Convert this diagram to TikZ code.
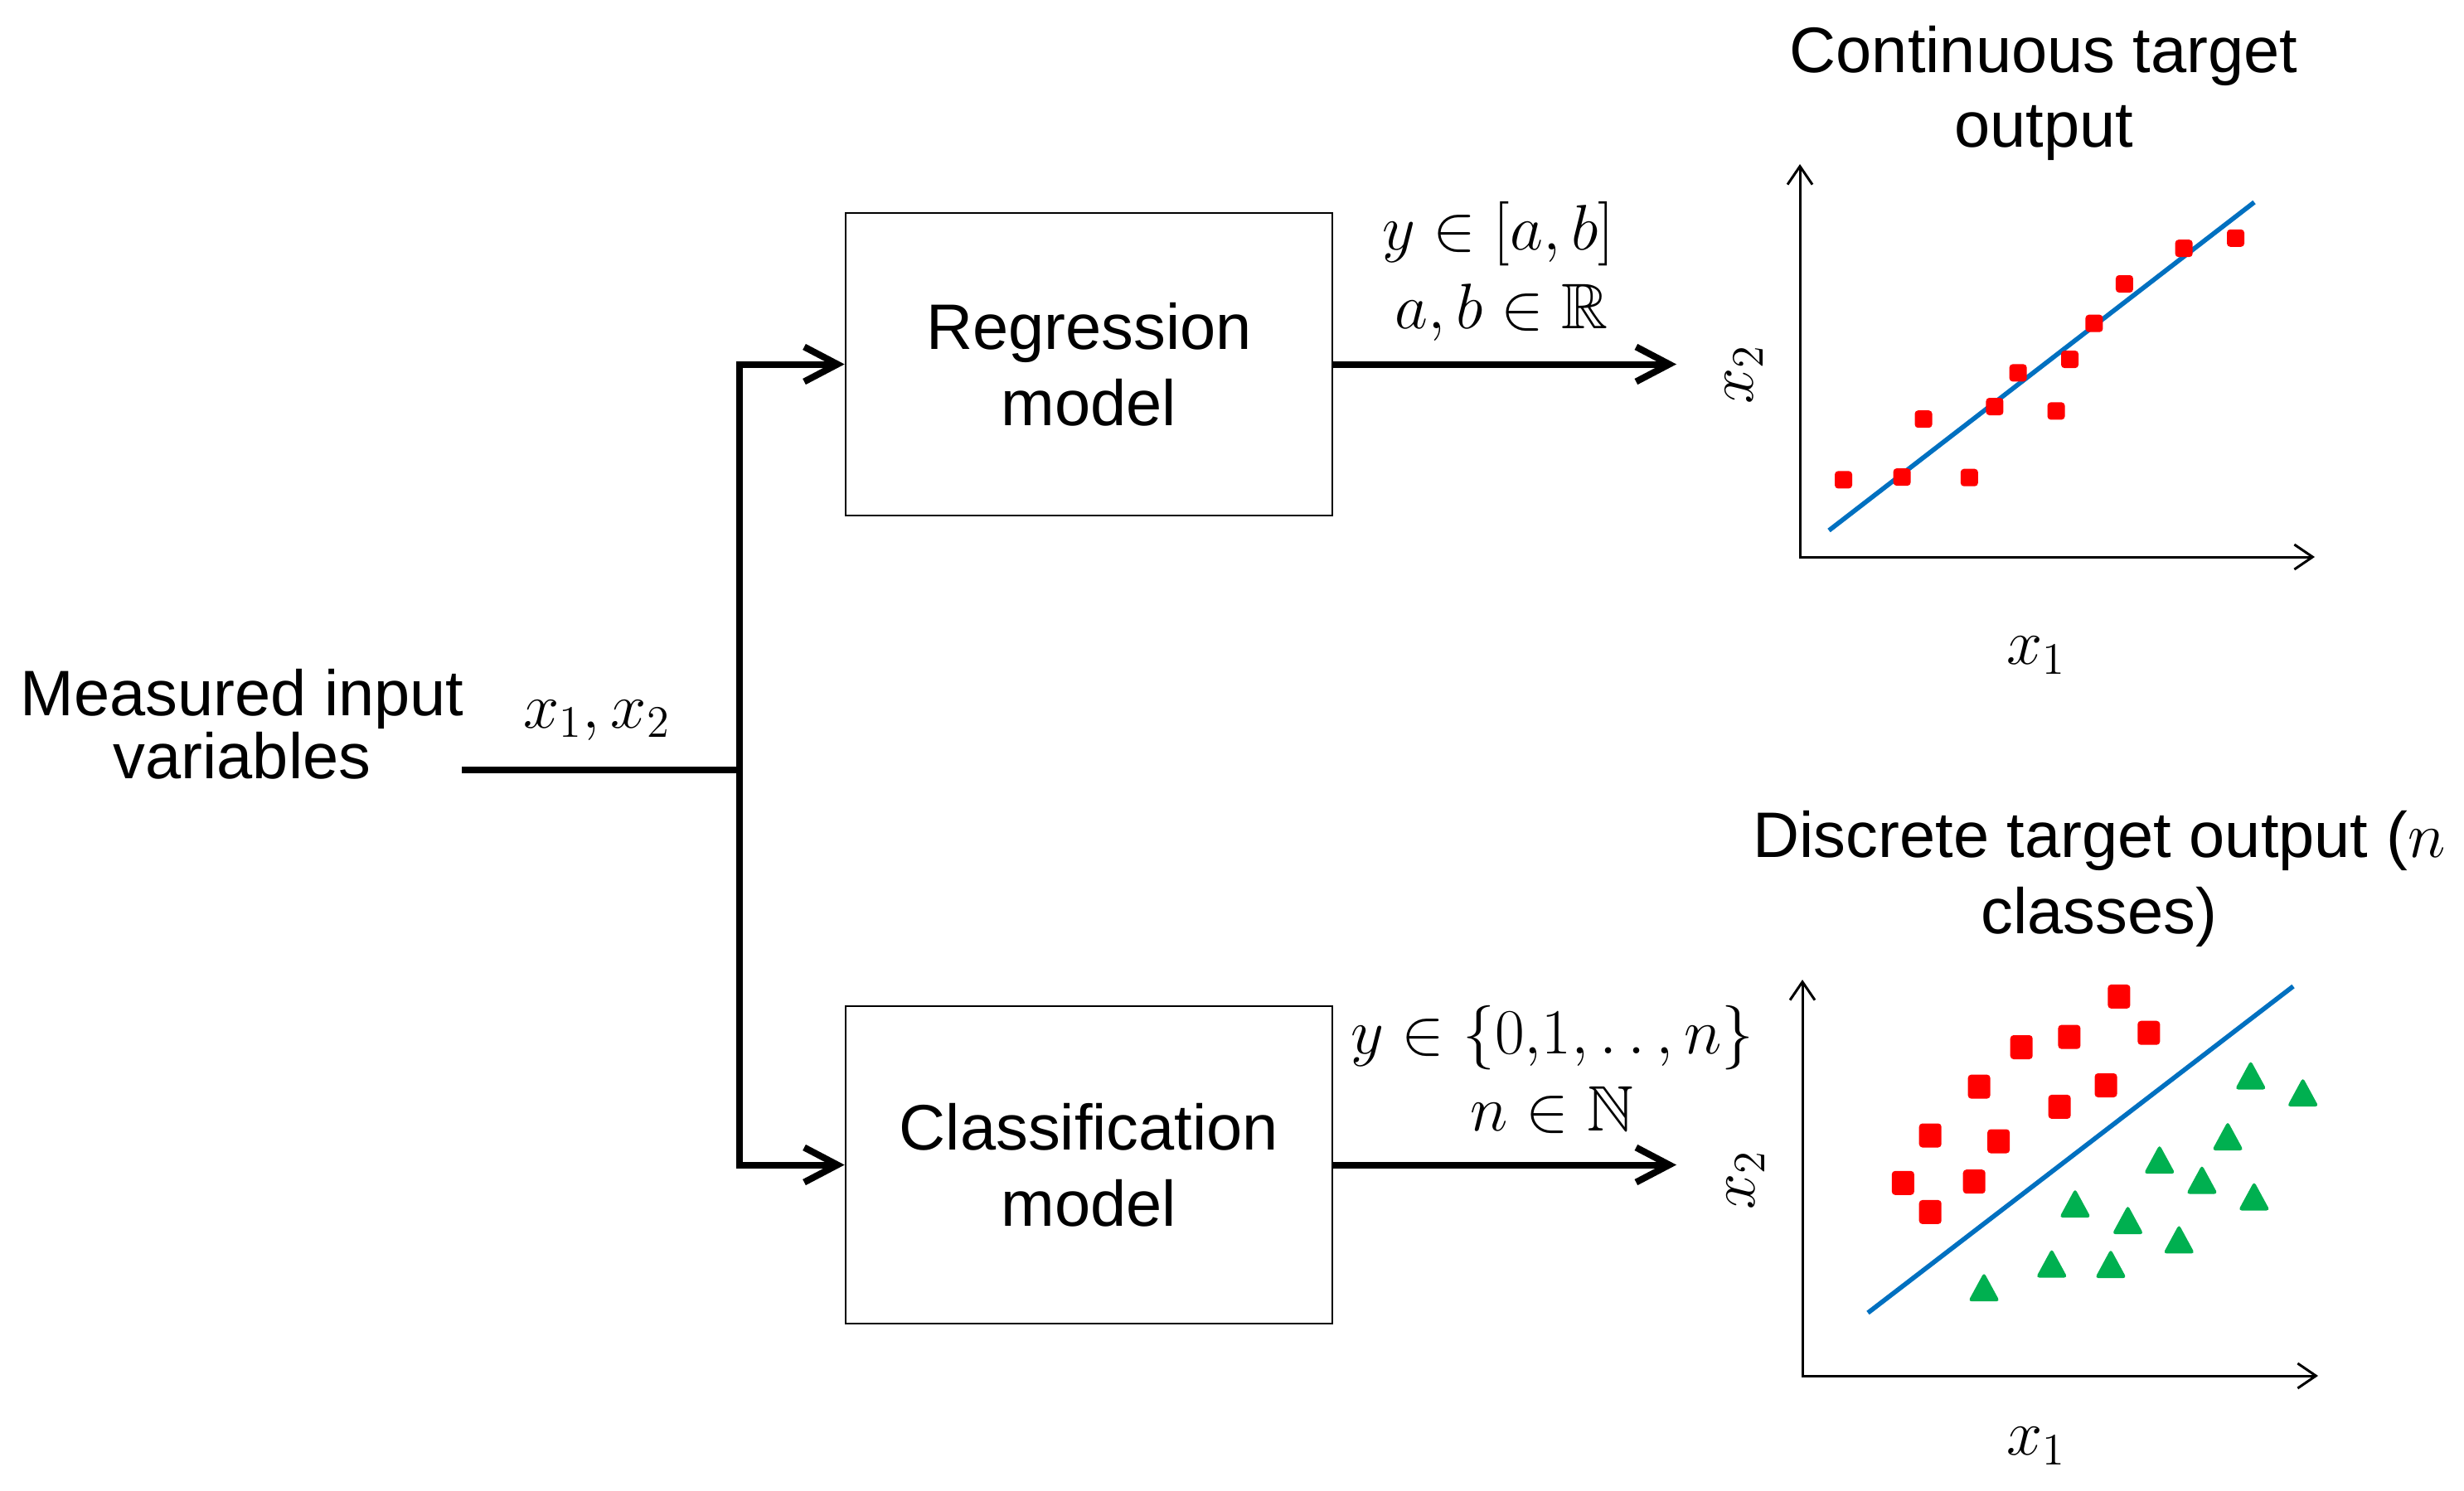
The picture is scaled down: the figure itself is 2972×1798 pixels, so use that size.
\RequirePackage{fix-cm}
\documentclass[tikz,border=0pt]{standalone}
\usepackage{amssymb}
\usepackage{fontspec}
\setmainfont{Liberation Sans}
\usetikzlibrary{arrows.meta}
\definecolor{fitblue}{RGB}{0,112,192}
\definecolor{ptred}{RGB}{255,0,0}
\definecolor{ptgreen}{RGB}{0,176,80}
\tikzset{
  txt/.style={inner sep=0pt, outer sep=0pt, align=center},
  mathlbl/.style={inner sep=0pt, outer sep=0pt, font=\fontsize{19.4}{23}\selectfont},
  box/.style={draw, line width=0.68pt, align=center, inner sep=0pt, font=\fontsize{19.4}{23.1}\selectfont},
  conn/.style={line width=2pt, -{Straight Barb[length=10pt,width=10.5pt]}},
  axisline/.style={line width=0.75pt, {Straight Barb[length=5.5pt,width=7.5pt]}-{Straight Barb[length=5.5pt,width=7.5pt]}},
  fitline/.style={line width=1.4pt, draw=fitblue},
  redsq/.style={fill=ptred, rounded corners=1pt},
  greentri/.style={fill=ptgreen, rounded corners=1pt}
}
\begin{document}
\begin{tikzpicture}[x=0.25pt,y=-0.25pt]
\useasboundingbox (0,0) rectangle (2972,1798);

% left part
\node[txt, font=\fontsize{19.4}{19}\selectfont] (meas) at (292,874) {Measured input\\variables};
\node[mathlbl, anchor=base] (xin) at (720,878) {$x_1, x_2$};

\node[box, minimum width=146.75pt, minimum height=91.25pt] (reg) at (1313.5,439.5) {Regression\\model};
\node[box, minimum width=146.75pt, minimum height=95.75pt] (cls) at (1313.5,1405.5) {Classification\\model};

\coordinate (inL) at (557,929);
\coordinate (jn) at (892,929);
\coordinate (regout) at (2022,439.5);
\coordinate (clsout) at (2022,1405.5);

\draw[line width=2pt] (inL) -- (jn);
\draw[conn] (jn) |- (reg.west);
\draw[conn] (jn) |- (cls.west);
\draw[conn] (reg.east) -- (regout);
\draw[conn] (cls.east) -- (clsout);

\node[mathlbl, anchor=base] (yreg) at (1807,301.7) {$y \in [a, b]$};
\node[mathlbl, anchor=base] (abreg) at (1811,396.7) {$a, b \in \mathbb{R}$};
\node[mathlbl, anchor=base] (ycls) at (1872.6,1271) {$y \in \{0{,}1,.\mkern3mu.\mkern3mu,n\}$};
\node[mathlbl, anchor=base] (ncls) at (1872,1364) {$n \in \mathbb{N}$};

% top plot
\node[txt, font=\fontsize{19.4}{22.5}\selectfont] (ttop) at (2465,112) {Continuous target\\output};
\coordinate (o1) at (2171,672);
\coordinate (ya) at (2171,198);
\coordinate (xa) at (2792,672);
\draw[axisline] (ya) -- (o1) -- (xa);
\node[mathlbl, rotate=90] (x2top) at (2104,452) {$x_2$};
\node[mathlbl] (x1top) at (2456,791) {$x_1$};
\draw[fitline] (2206,640) -- (2719,244);
\foreach \p in {(2223.5,578.9),(2294.1,575.6),(2320,505.7),(2375.3,576.2),(2405.9,490.5),(2434.1,449.9),(2480,495.9),(2496.5,433.6),(2525.9,390.2),(2562.4,342.5),(2634.1,299.7),(2696.5,287.3)}
  \fill[redsq] \p ++(-10.5,-10.5) rectangle ++(21,21);

% bottom plot
\node[txt, font=\fontsize{19.4}{23}\selectfont] (tbot) at (2532,1060) {Discrete target output ($n$\\classes)};
\coordinate (o2) at (2174,1660);
\coordinate (yb) at (2174,1182);
\coordinate (xb) at (2796,1660);
\draw[axisline] (yb) -- (o2) -- (xb);
\node[mathlbl, rotate=90] (x2bot) at (2106,1424) {$x_2$};
\node[mathlbl] (x1bot) at (2456,1745) {$x_1$};
\draw[fitline] (2253,1584) -- (2766,1190);
\foreach \p in {(2555.9,1202.4),(2591.8,1246.2),(2495.9,1251.1),(2438.2,1263.5),(2387.1,1311.1),(2540,1309.5),(2484.1,1335.4),(2328.2,1370),(2410.6,1377),(2295.3,1427.3),(2381.2,1425.7),(2328.2,1462.4)}
  \fill[redsq] \p ++(-13.5,-14.5) rectangle ++(27,29);
\foreach \p in {(2714.7,1297),(2777.6,1317.6),(2687,1370.5),(2604.7,1398.6),(2655.9,1423),(2718.8,1443),(2502.9,1451.6),(2566.5,1471.6),(2628.2,1494.9),(2474.7,1524),(2545.9,1524.6),(2393,1552.7)}
  \fill[greentri] \p ++(0,-17.5) -- ++(19,35) -- ++(-38,0) -- cycle;
\end{tikzpicture}
\end{document}
